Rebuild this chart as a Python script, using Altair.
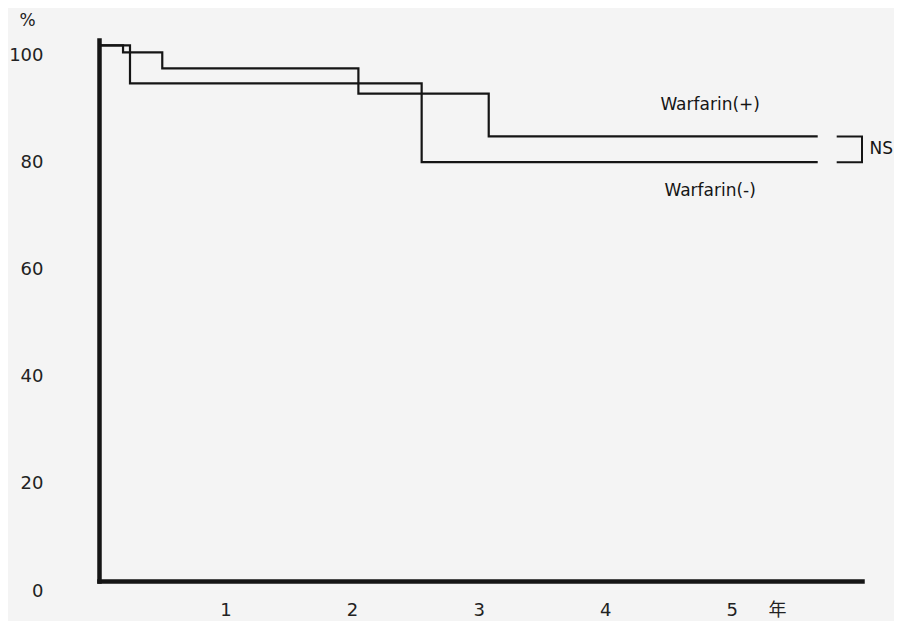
import altair as alt
import pandas as pd

# Kaplan-Meier style step curves (years, % event-free)
years_plus = [0, 0.19, 0.50, 2.05, 3.08, 5.68]
surv_plus = [100, 98.7, 95.7, 91.0, 83.0, 83.0]
years_minus = [0, 0.245, 2.55, 5.68]
surv_minus = [100, 92.9, 78.2, 78.2]

series_names = ["Warfarin(+)", "Warfarin(-)"]
label_years = [4.83, 4.83]
label_values = [88.8, 72.9]

x_ticks = [1, 2, 3, 4, 5]
y_ticks = [0, 20, 40, 60, 80, 100]

bracket_start = 5.83
bracket_end = 6.03
ns_text = "NS"
ns_year = 6.09

rows = []
for i, (t, v) in enumerate(zip(years_plus, surv_plus)):
    rows.append({"series": series_names[0], "t": t, "v": v, "o": i})
for i, (t, v) in enumerate(zip(years_minus, surv_minus)):
    rows.append({"series": series_names[1], "t": t, "v": v, "o": i})
curves = pd.DataFrame(rows)

labels = pd.DataFrame({"name": series_names, "t": label_years, "v": label_values})

top_end, bot_end = surv_plus[-1], surv_minus[-1]
bracket = pd.DataFrame({
    "t": [bracket_start, bracket_end, bracket_end, bracket_start],
    "v": [top_end, top_end, bot_end, bot_end],
    "o": [0, 1, 2, 3],
})
ns = pd.DataFrame({"t": [ns_year], "v": [(top_end + bot_end) / 2], "txt": [ns_text]})

xscale = alt.Scale(domain=[0, 6.03], nice=False, zero=True)
yscale = alt.Scale(domain=[0, 101], nice=False)

ink = "#151515"

xaxis = alt.Axis(
    values=x_ticks, title="年", grid=False, ticks=False, labelPadding=20,
    domainWidth=4.5, domainColor=ink, domainCap="square",
    labelFont="DejaVu Sans", labelFontSize=18, labelColor="#222", labelFlush=False,
    titleFont="Noto Sans CJK JP", titleFontSize=18, titleFontWeight="normal",
    titleColor="#222", titleX=678, titleY=29, titleBaseline="middle", titleAlign="center")
yaxis = alt.Axis(
    values=y_ticks, title="%", grid=False, ticks=False, labelPadding=56, labelOffset=10,
    domainWidth=4.5, domainColor=ink, domainCap="square",
    labelFont="DejaVu Sans", labelFontSize=18, labelColor="#222",
    titleFont="DejaVu Sans", titleFontSize=17, titleFontWeight="normal", titleColor="#222",
    titleAngle=0, titleX=-72, titleY=-20, titleBaseline="middle", titleAlign="center")

X = alt.X("t:Q", scale=xscale, axis=xaxis)
Y = alt.Y("v:Q", scale=yscale, axis=yaxis)

lines = alt.Chart(curves).mark_line(interpolate="step-after", color=ink, strokeWidth=2.2).encode(
    x=X, y=Y, detail="series:N", order="o:Q",
)

brk = alt.Chart(bracket).mark_line(color=ink, strokeWidth=2).encode(
    x=X, y=Y, order="o:Q",
)

txt = alt.Chart(labels).mark_text(font="DejaVu Sans", fontSize=17, color=ink).encode(
    x=X, y=Y, text="name:N",
)

ns_mark = alt.Chart(ns).mark_text(font="DejaVu Sans", fontSize=17, color=ink, align="left").encode(
    x=X, y=Y, text="txt:N",
)

chart = alt.layer(lines, brk, txt, ns_mark).properties(
    width=763,
    height=541,
    autosize=alt.AutoSizeParams(type="none"),
    padding={"left": 91, "top": 32, "right": 32, "bottom": 40},
    background="#f4f4f4",
).configure_view(stroke=None)

chart.save("out.html", embed_options={"renderer": "svg", "actions": False})
